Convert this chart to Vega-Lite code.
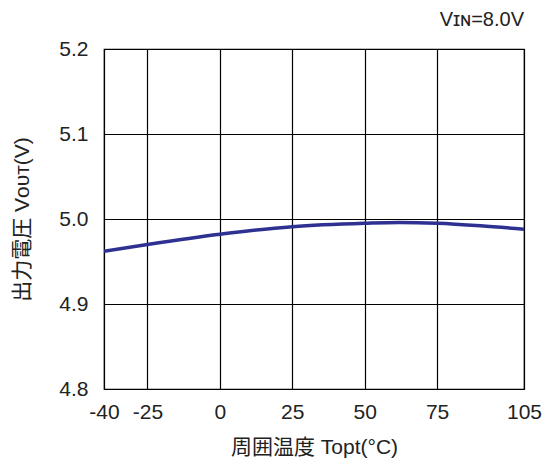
{
  "$schema": "https://vega.github.io/schema/vega-lite/v6.json",
  "width": 420,
  "height": 340,
  "autosize": "none",
  "padding": {"left": 104, "top": 49, "right": 23, "bottom": 72},
  "background": "white",
  "config": {
    "font": "Liberation Sans, DejaVu Sans, Noto Sans CJK JP",
    "view": {"stroke": "black", "strokeWidth": 1.2},
    "axis": {
      "domain": false,
      "ticks": false,
      "grid": true,
      "gridColor": "black",
      "gridOpacity": 1,
      "gridWidth": 1.2,
      "labelFont": "Liberation Sans",
      "labelFontSize": 21,
      "labelColor": "#222",
      "labelOverlap": false,
      "labelFlush": false,
      "titleFont": "Liberation Sans, DejaVu Sans, Noto Sans CJK JP",
      "titleFontSize": 21,
      "titleFontWeight": "normal",
      "titleColor": "#222"
    }
  },
  "title": {
    "text": "Vɪɴ=8.0V",
    "anchor": "end",
    "frame": "group",
    "fontSize": 20,
    "fontWeight": "normal",
    "font": "Liberation Sans, DejaVu Sans",
    "color": "#222",
    "offset": 8
  },
  "data": {
    "values": [
      {"t": -40, "v": 4.962},
      {"t": -25, "v": 4.970},
      {"t": 0, "v": 4.982},
      {"t": 25, "v": 4.991},
      {"t": 50, "v": 4.995},
      {"t": 62, "v": 4.996},
      {"t": 75, "v": 4.995},
      {"t": 90, "v": 4.992},
      {"t": 105, "v": 4.988}
    ]
  },
  "mark": {"type": "line", "interpolate": "monotone", "color": "#2e3192", "strokeWidth": 3.5, "clip": true},
  "encoding": {
    "x": {
      "field": "t",
      "type": "quantitative",
      "scale": {"domain": [-40, 105], "nice": false, "zero": false},
      "axis": {"values": [-40, -25, 0, 25, 50, 75, 105], "labelExpr": "toString(datum.value)", "title": "周囲温度 Topt(°C)", "labelPadding": 12, "titlePadding": 14}
    },
    "y": {
      "field": "v",
      "type": "quantitative",
      "scale": {"domain": [4.8, 5.2], "nice": false, "zero": false},
      "axis": {"values": [4.8, 4.9, 5.0, 5.1, 5.2], "format": ".1f", "title": "出力電圧 Vᴏᴜᴛ(V)", "labelPadding": 16, "titlePadding": 26}
    }
  }
}
